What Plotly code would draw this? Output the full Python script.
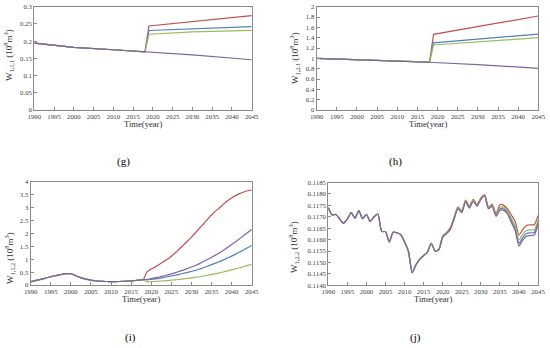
import plotly.graph_objects as go

COLORS = {"red": "#C0504D", "blue": "#4F81BD", "green": "#9BBB59", "purple": "#8064A2"}
SERIES_ORDER = ["red", "blue", "green", "purple"]

# ---------------- (g) ----------------
g_base_years = [1990, 2000, 2010, 2018]
g_base = [0.194, 0.182, 0.175, 0.169]
g_fut_years = [2019, 2030, 2045]
g_red = [0.244, 0.257, 0.274]
g_blue = [0.231, 0.236, 0.242]
g_green = [0.220, 0.227, 0.231]
g_purple = [0.168, 0.160, 0.146]

# ---------------- (h) ----------------
h_base_years = [1990, 2000, 2010, 2018]
h_base = [1.00, 0.975, 0.948, 0.925]
h_fut_years = [2019, 2030, 2045]
h_red = [1.464, 1.61, 1.82]
h_blue = [1.300, 1.37, 1.47]
h_green = [1.258, 1.32, 1.40]
h_purple = [0.92, 0.88, 0.806]

# ---------------- (i) ----------------
i_base_years = list(range(1990, 2019))
i_base = [0.13, 0.16, 0.20, 0.24, 0.28, 0.32, 0.36, 0.39, 0.42, 0.44, 0.44, 0.38, 0.31,
          0.26, 0.22, 0.19, 0.165, 0.15, 0.14, 0.135, 0.13, 0.13, 0.135, 0.14, 0.15,
          0.16, 0.175, 0.19, 0.21]
i_fut_years = list(range(2019, 2046))
i_red = [0.52, 0.62, 0.70, 0.80, 0.90, 1.00, 1.12, 1.25, 1.40, 1.55, 1.70, 1.86, 2.03,
         2.20, 2.37, 2.55, 2.72, 2.87, 3.00, 3.14, 3.27, 3.38, 3.47, 3.55, 3.61, 3.66, 3.70]
i_purple = [0.22, 0.25, 0.28, 0.31, 0.35, 0.39, 0.43, 0.48, 0.53, 0.58, 0.64, 0.70, 0.76,
            0.83, 0.91, 0.99, 1.07, 1.16, 1.25, 1.35, 1.46, 1.57, 1.68, 1.80, 1.92, 2.04, 2.16]
i_blue = [0.20, 0.22, 0.24, 0.26, 0.29, 0.32, 0.35, 0.38, 0.41, 0.45, 0.49, 0.53, 0.57,
          0.62, 0.67, 0.73, 0.79, 0.85, 0.91, 0.98, 1.05, 1.12, 1.20, 1.28, 1.36, 1.45, 1.54]
i_green = [0.12, 0.13, 0.14, 0.15, 0.16, 0.17, 0.19, 0.20, 0.22, 0.24, 0.26, 0.28, 0.30,
           0.32, 0.35, 0.38, 0.41, 0.44, 0.47, 0.51, 0.55, 0.59, 0.63, 0.67, 0.71, 0.76, 0.80]

# ---------------- (j) ----------------
j_base_years = list(range(1990, 2019))
j_base = [0.11740, 0.11708, 0.11710, 0.11690, 0.11672, 0.11690, 0.11718, 0.11694, 0.11727,
          0.11692, 0.11710, 0.11680, 0.11700, 0.11712, 0.11636, 0.11635, 0.11590, 0.11632,
          0.11630, 0.11622, 0.11590, 0.11550, 0.11455, 0.11490, 0.11515, 0.11530, 0.11545,
          0.11584, 0.11550]
j_fut_years = list(range(2019, 2046))
j_purple = [0.11555, 0.11610, 0.11625, 0.11645, 0.11690, 0.11735, 0.11718, 0.11765, 0.11738,
            0.11768, 0.11746, 0.11775, 0.11792, 0.11735, 0.11745, 0.11702, 0.11728, 0.11728,
            0.11712, 0.11675, 0.11640, 0.11572, 0.11598, 0.11615, 0.11618, 0.11620, 0.11665]
j_blue = [0.11556, 0.11612, 0.11627, 0.11647, 0.11692, 0.11737, 0.11720, 0.11767, 0.11740,
          0.11770, 0.11748, 0.11777, 0.11793, 0.11737, 0.11747, 0.11704, 0.11735, 0.11734,
          0.11718, 0.11684, 0.11650, 0.11584, 0.11610, 0.11627, 0.11630, 0.11631, 0.11675]
j_green = [0.11557, 0.11614, 0.11629, 0.11650, 0.11695, 0.11740, 0.11723, 0.11770, 0.11743,
           0.11773, 0.11751, 0.11780, 0.11795, 0.11740, 0.11750, 0.11708, 0.11742, 0.11741,
           0.11725, 0.11693, 0.11662, 0.11598, 0.11624, 0.11640, 0.11643, 0.11643, 0.11686]
j_red = [0.11558, 0.11616, 0.11631, 0.11653, 0.11698, 0.11743, 0.11726, 0.11773, 0.11746,
         0.11776, 0.11754, 0.11783, 0.11796, 0.11743, 0.11755, 0.11712, 0.11753, 0.11750,
         0.11734, 0.11708, 0.11680, 0.11620, 0.11645, 0.11662, 0.11665, 0.11665, 0.11705]

x_ticks = list(range(1990, 2046, 5))

panels = [
    dict(key="g", base_years=g_base_years, base=g_base, fut_years=g_fut_years,
         series={"red": g_red, "blue": g_blue, "green": g_green, "purple": g_purple},
         yrange=[0, 0.3], dtick=0.05, fmt="", ytitle="W<sub>1,1,1</sub> (10<sup>8</sup>m<sup>3</sup>)",
         label="(g)", spline=False),
    dict(key="h", base_years=h_base_years, base=h_base, fut_years=h_fut_years,
         series={"red": h_red, "blue": h_blue, "green": h_green, "purple": h_purple},
         yrange=[0, 2], dtick=0.2, fmt="", ytitle="W<sub>1,2,1</sub> (10<sup>8</sup>m<sup>3</sup>)",
         label="(h)", spline=False),
    dict(key="i", base_years=i_base_years, base=i_base, fut_years=i_fut_years,
         series={"red": i_red, "blue": i_blue, "green": i_green, "purple": i_purple},
         yrange=[0, 4], dtick=0.5, fmt="", ytitle="W<sub>1,1,2</sub> (10<sup>8</sup>m<sup>3</sup>)",
         label="(i)", spline=True),
    dict(key="j", base_years=j_base_years, base=j_base, fut_years=j_fut_years,
         series={"red": j_red, "blue": j_blue, "green": j_green, "purple": j_purple},
         yrange=[0.1140, 0.1185], dtick=0.0005, fmt=".4f", ytitle="W<sub>1,2,2</sub> (10<sup>8</sup>m<sup>3</sup>)",
         label="(j)", spline=True),
]

# layout geometry (pixels in a 550x348 canvas)
W, H = 550, 348
boxes = {
    "g": (34.3, 251.7, 6.7, 110.0),
    "h": (316.7, 538.3, 6.7, 110.0),
    "i": (30.7, 251.7, 182.0, 285.0),
    "j": (328.3, 538.0, 182.5, 285.3),
}
ytitle_pos = {"g": (8, 55), "h": (295, 58), "i": (9, 258), "j": (293, 247)}
label_pos = {"g": (123, 162), "h": (395, 162), "i": (130, 337), "j": (415, 337)}

fig = go.Figure()
layout = dict(width=W, height=H, margin=dict(l=0, r=0, t=0, b=0),
              paper_bgcolor="white", plot_bgcolor="white", showlegend=False)
annotations = []
tickfont = dict(family="Liberation Serif", size=6.8, color="#404040")
axcolor = "#8a8a8a"

for n, p in enumerate(panels, start=1):
    xa = "x" if n == 1 else f"x{n}"
    ya = "y" if n == 1 else f"y{n}"
    xl = "xaxis" if n == 1 else f"xaxis{n}"
    yl = "yaxis" if n == 1 else f"yaxis{n}"
    x0, x1, top, bot = boxes[p["key"]]
    layout[xl] = dict(domain=[x0 / W, x1 / W], anchor=ya, range=[1990, 2045],
                      tickvals=x_ticks, ticks="inside", ticklen=3, tickcolor=axcolor,
                      showline=True, linecolor=axcolor, linewidth=1, mirror=True,
                      showgrid=False, zeroline=False, tickfont=tickfont, automargin=False)
    layout[yl] = dict(domain=[1 - bot / H, 1 - top / H], anchor=xa, range=p["yrange"],
                      dtick=p["dtick"], tick0=p["yrange"][0], tickformat=p["fmt"],
                      ticks="inside", ticklen=3, tickcolor=axcolor,
                      showline=True, linecolor=axcolor, linewidth=1, mirror=True,
                      showgrid=False, zeroline=False, tickfont=tickfont, automargin=False)
    shape = "spline" if p["spline"] else "linear"
    for name in SERIES_ORDER:
        xs = p["base_years"] + p["fut_years"]
        ys = p["base"] + p["series"][name]
        fig.add_trace(go.Scatter(x=xs, y=ys, mode="lines", xaxis=xa, yaxis=ya,
                                 line=dict(color=COLORS[name], width=1.2, shape=shape,
                                           smoothing=0.6),
                                 name=name, hoverinfo="skip"))
    annotations.append(dict(text="Time(year)", x=(x0 + x1) / 2 / W, y=1 - (bot + 14) / H,
                            xref="paper", yref="paper", showarrow=False,
                            font=dict(family="Liberation Serif", size=8.6, color="#303030"),
                            xanchor="center", yanchor="middle"))
    tx, ty = ytitle_pos[p["key"]]
    annotations.append(dict(text=p["ytitle"], x=tx / W, y=1 - ty / H, xref="paper", yref="paper",
                            showarrow=False, textangle=-90,
                            font=dict(family="Liberation Serif", size=9, color="#303030"),
                            xanchor="center", yanchor="middle"))
    lx, ly = label_pos[p["key"]]
    annotations.append(dict(text=p["label"], x=lx / W, y=1 - ly / H, xref="paper", yref="paper",
                            showarrow=False,
                            font=dict(family="Liberation Serif", size=11, color="#000000"),
                            xanchor="center", yanchor="middle"))

layout["annotations"] = annotations
fig.update_layout(**layout)
fig.write_html("out.html", config={"displayModeBar": False},
               post_script="document.body.style.margin='0';document.body.style.padding='0';")
